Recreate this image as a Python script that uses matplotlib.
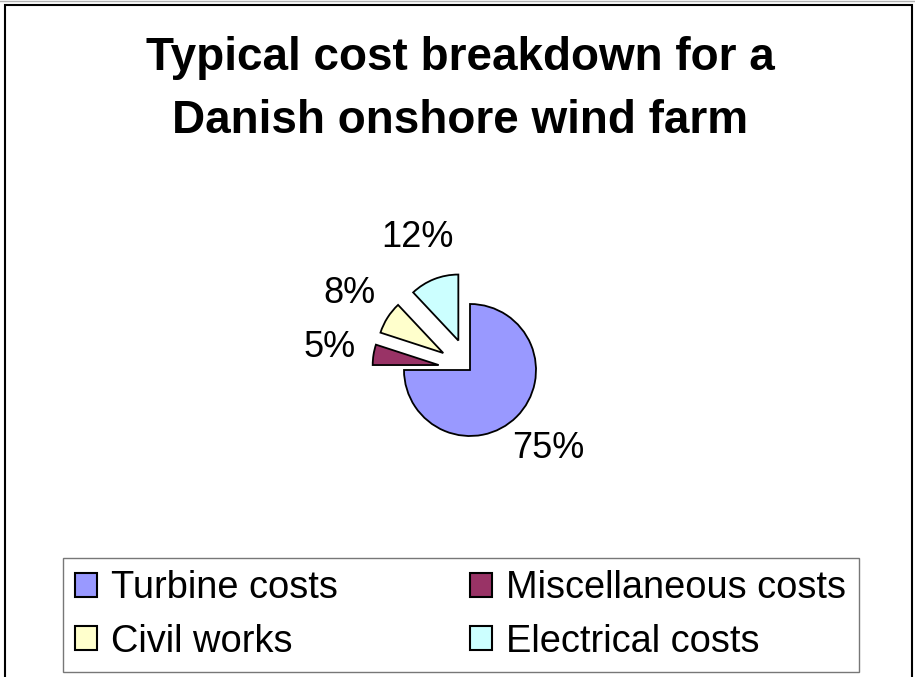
import matplotlib
matplotlib.use("Agg")
import matplotlib.pyplot as plt
from matplotlib.patches import Rectangle

# Cost shares (%) of a typical Danish onshore wind farm
categories = ["Turbine costs", "Miscellaneous costs", "Civil works", "Electrical costs"]
shares = [75, 5, 8, 12]
colors = ["#9999FF", "#993366", "#FFFFCC", "#CCFFFF"]
explode_frac = [0.0, 0.48, 0.48, 0.48]   # as a fraction of the pie radius
title_lines = ["Typical cost breakdown for a", "Danish onshore wind farm"]

W, H = 915, 677
FONT = "Liberation Sans"
RADIUS = 66

fig = plt.figure(figsize=(W / 100, H / 100), dpi=100)
fig.patch.set_facecolor("white")

# Axes in pixel units covering the whole canvas
ax = fig.add_axes([0, 0, 1, 1])

wedges, texts, autotexts = ax.pie(
    shares,
    colors=colors,
    explode=[e * RADIUS for e in explode_frac],
    startangle=90,
    counterclock=False,
    center=(470, H - 370),
    radius=RADIUS,
    autopct="%1.0f%%",
    pctdistance=1.68,
    wedgeprops=dict(edgecolor="black", linewidth=1.3),
    textprops=dict(fontsize=26, family=FONT, color="black"),
)
ax.set_xlim(0, W)
ax.set_ylim(0, H)
ax.set_aspect("equal")
ax.axis("off")

# Two-line bold title
for line, base in zip(title_lines, [70, 133]):
    ax.text(460, H - base, line, ha="center", va="baseline",
            fontsize=33, fontweight="bold", family=FONT)

# Outer chart border
ax.add_patch(Rectangle((4.5, -5), 907.5, H - 4.5 + 5, fill=False,
                       edgecolor="black", linewidth=1.5, clip_on=False))
ax.plot([0, W], [H - 0.5, H - 0.5], color="#B0B0B0", linewidth=1)

# Legend, filled row by row
order = [0, 2, 1, 3]
leg = fig.legend(
    [wedges[i] for i in order],
    [categories[i] for i in order],
    ncol=2,
    loc="upper left",
    bbox_to_anchor=(63 / W, 1 - 558 / H),
    borderaxespad=0,
    frameon=True,
    fancybox=False,
    prop=dict(family=FONT, size=27.4),
    handlelength=0.58,
    handleheight=0.58,
    handletextpad=0.37,
    columnspacing=3.47,
    borderpad=0.32,
    labelspacing=0.46,
)
leg.get_frame().set_edgecolor("#555555")
leg.get_frame().set_linewidth(1.0)
for h in leg.legend_handles:
    h.set_edgecolor("black")
    h.set_linewidth(1.5)

fig.savefig("out.png", dpi=100, facecolor="white")
